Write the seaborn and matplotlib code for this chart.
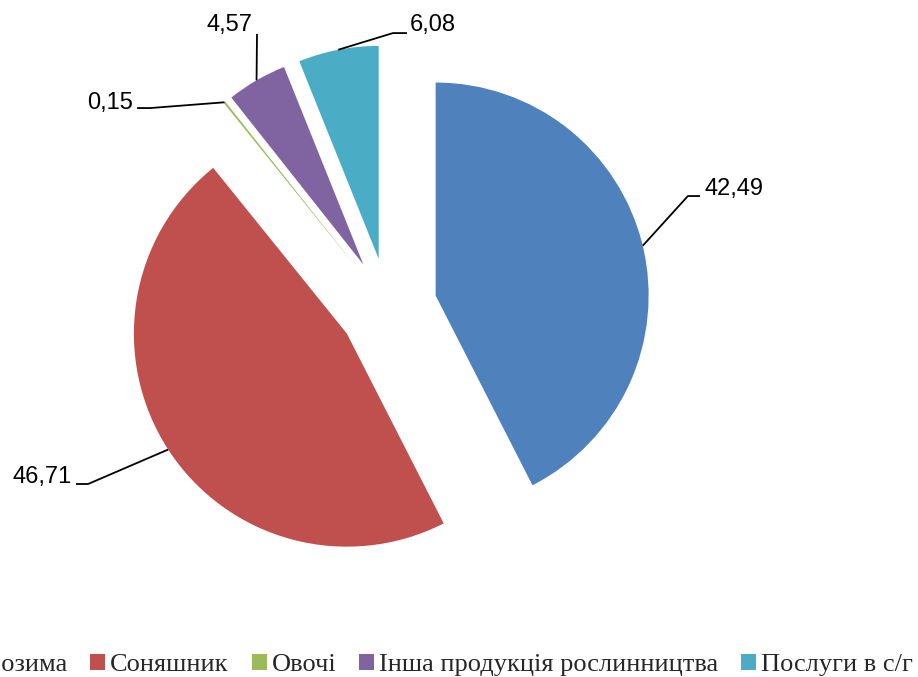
import matplotlib
matplotlib.use('Agg')
import matplotlib.pyplot as plt
import seaborn as sns
import numpy as np

categories = ['Пшениця озима', 'Соняшник', 'Овочі', 'Інша продукція рослинництва', 'Послуги в с/г']
values = [42.49, 46.71, 0.15, 4.57, 6.08]
value_labels = ['42,49', '46,71', '0,15', '4,57', '6,08']
colors = ['#4F81BD', '#C0504D', '#9BBB59', '#8064A2', '#4BACC6']

sns.set_theme(style='white')
plt.rcParams['font.family'] = ['Liberation Sans', 'DejaVu Sans']

W, H = 918, 677
fig = plt.figure(figsize=(W / 100, H / 100), dpi=100)
fig.patch.set_facecolor('white')
ax = fig.add_axes([0, 0, 1, 1])
R = 213.0
cx, cy = 388.0, 307.0

palette = sns.color_palette(colors)
wedges, _ = ax.pie(values, colors=palette, startangle=90, counterclock=False,
                   explode=[0.23] * len(values), radius=1,
                   wedgeprops=dict(linewidth=0))
ax.set_xlim(-cx / R, (W - cx) / R)
ax.set_ylim(-(H - cy) / R, cy / R)
ax.set_aspect('equal')
ax.axis('off')

# label layout (data units, radius = 1)
elbows = [(1.408, 0.521), (-1.408, -0.831), (-1.117, 0.934), (-0.615, 1.282), (0.023, 1.286)]
ends = [1.465, -1.465, -1.178, None, 0.089]
text_pos = [(1.488, 0.554, 'left'), (-1.484, -0.798, 'right'), (-1.197, 0.958, 'right'),
            (-0.742, 1.324, 'center'), (0.103, 1.324, 'left')]

for w, lab, el, en, tp in zip(wedges, value_labels, elbows, ends, text_pos):
    mid = np.deg2rad((w.theta1 + w.theta2) / 2)
    ex = w.center[0] + w.r * np.cos(mid)
    ey = w.center[1] + w.r * np.sin(mid)
    xs = [ex, el[0]]
    ys = [ey, el[1]]
    if en is not None:
        xs.append(en)
        ys.append(el[1])
    ax.plot(xs, ys, color='black', lw=1.3, solid_capstyle='butt')
    ax.text(tp[0], tp[1], lab, ha=tp[2], va='center', fontsize=17,
            family=['Liberation Sans', 'DejaVu Sans'], color='black')

leg = fig.legend(wedges, categories, loc='center left', bbox_to_anchor=(0, 0.018),
                 ncol=5, frameon=False,
                 prop={'family': ['Liberation Serif', 'DejaVu Serif'], 'size': 19},
                 handlelength=0.57, handleheight=0.57, handletextpad=0.19,
                 columnspacing=0.87, borderaxespad=0, borderpad=0)
fig.canvas.draw()
r = fig.canvas.get_renderer()
hb = leg.legend_handles[1].get_window_extent(r)
shift = 90 - hb.x0
leg.set_bbox_to_anchor((shift / W, 0.018), transform=fig.transFigure)

fig.savefig('out.png', dpi=100, facecolor='white')
